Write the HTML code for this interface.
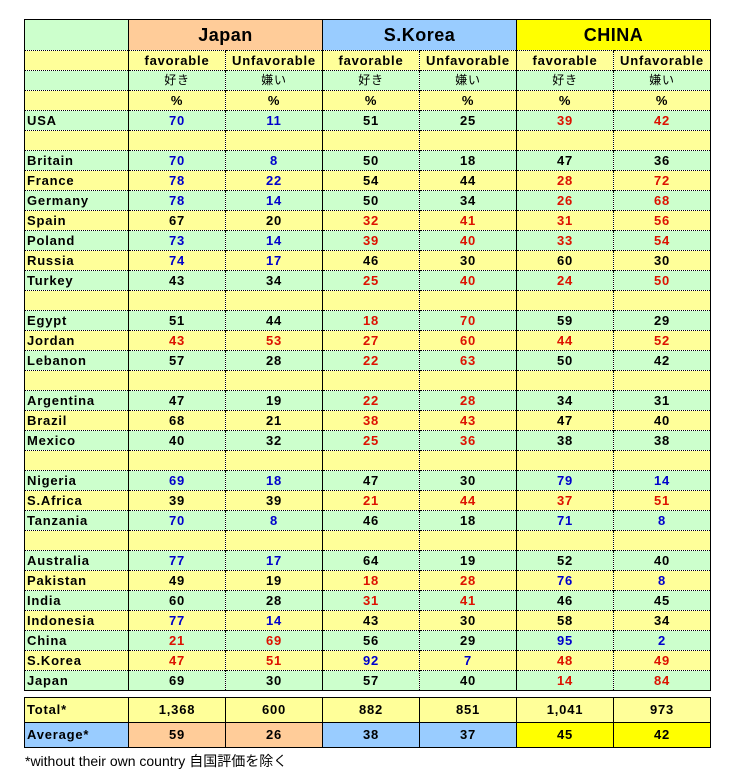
<!DOCTYPE html>
<html><head><meta charset="utf-8"><style>
body{margin:0;background:#fff;width:734px;height:770px;position:relative;font-family:"Liberation Sans","Noto Sans CJK JP",sans-serif;}
table{position:absolute;left:24px;border-collapse:collapse;table-layout:fixed;}
td{padding:0;text-align:center;font-weight:bold;font-size:13px;letter-spacing:0.8px;height:19px;border-top:1px dotted #000;border-left:1px dotted #000;white-space:nowrap;overflow:hidden;line-height:19px}
td.l{text-align:left;padding-left:2px;border-left:none}
td.g{border-left:1px solid #000}
tr.y td{background:#ffff99}
tr.n td{background:#ccffcc}
.b{color:#0000cc}.r{color:#dd1100}
#t1{top:19px;border:1px solid #000}
#t1 tr.h td{height:30px;font-size:18px;border-top:none;line-height:30px;letter-spacing:0.5px}
#t2{top:697px;border:1px solid #000}
#t2 td{border-top:1px solid #000;border-left:1px solid #000;height:24px;line-height:24px}
#t2 td.l{border-left:none}
.jp{font-weight:normal;font-size:12px}
.fn{position:absolute;left:25px;top:751px;font-size:14px;color:#000}
</style></head><body>
<table id="t1">
<colgroup><col style="width:104px"><col style="width:97px"><col style="width:97px"><col style="width:97px"><col style="width:97px"><col style="width:97px"><col style="width:97px"></colgroup>
<tr class="h"><td class="l" style="background:#ccffcc"></td><td colspan="2" class="g" style="background:#ffcc99">Japan</td><td colspan="2" class="g" style="background:#99ccff">S.Korea</td><td colspan="2" class="g" style="background:#ffff00">CHINA</td></tr>
<tr class="y"><td class="l"></td><td class="g">favorable</td><td>Unfavorable</td><td class="g">favorable</td><td>Unfavorable</td><td class="g">favorable</td><td>Unfavorable</td></tr>
<tr class="n"><td class="l"></td><td class="g jp">好き</td><td class="jp">嫌い</td><td class="g jp">好き</td><td class="jp">嫌い</td><td class="g jp">好き</td><td class="jp">嫌い</td></tr>
<tr class="y"><td class="l"></td><td class="g">%</td><td>%</td><td class="g">%</td><td>%</td><td class="g">%</td><td>%</td></tr>
<tr class="n"><td class="l">USA</td><td class="g b">70</td><td class="b">11</td><td class="g">51</td><td>25</td><td class="g r">39</td><td class="r">42</td></tr>
<tr class="y"><td class="l"></td><td class="g"></td><td></td><td class="g"></td><td></td><td class="g"></td><td></td></tr>
<tr class="n"><td class="l">Britain</td><td class="g b">70</td><td class="b">8</td><td class="g">50</td><td>18</td><td class="g">47</td><td>36</td></tr>
<tr class="y"><td class="l">France</td><td class="g b">78</td><td class="b">22</td><td class="g">54</td><td>44</td><td class="g r">28</td><td class="r">72</td></tr>
<tr class="n"><td class="l">Germany</td><td class="g b">78</td><td class="b">14</td><td class="g">50</td><td>34</td><td class="g r">26</td><td class="r">68</td></tr>
<tr class="y"><td class="l">Spain</td><td class="g">67</td><td>20</td><td class="g r">32</td><td class="r">41</td><td class="g r">31</td><td class="r">56</td></tr>
<tr class="n"><td class="l">Poland</td><td class="g b">73</td><td class="b">14</td><td class="g r">39</td><td class="r">40</td><td class="g r">33</td><td class="r">54</td></tr>
<tr class="y"><td class="l">Russia</td><td class="g b">74</td><td class="b">17</td><td class="g">46</td><td>30</td><td class="g">60</td><td>30</td></tr>
<tr class="n"><td class="l">Turkey</td><td class="g">43</td><td>34</td><td class="g r">25</td><td class="r">40</td><td class="g r">24</td><td class="r">50</td></tr>
<tr class="y"><td class="l"></td><td class="g"></td><td></td><td class="g"></td><td></td><td class="g"></td><td></td></tr>
<tr class="n"><td class="l">Egypt</td><td class="g">51</td><td>44</td><td class="g r">18</td><td class="r">70</td><td class="g">59</td><td>29</td></tr>
<tr class="y"><td class="l">Jordan</td><td class="g r">43</td><td class="r">53</td><td class="g r">27</td><td class="r">60</td><td class="g r">44</td><td class="r">52</td></tr>
<tr class="n"><td class="l">Lebanon</td><td class="g">57</td><td>28</td><td class="g r">22</td><td class="r">63</td><td class="g">50</td><td>42</td></tr>
<tr class="y"><td class="l"></td><td class="g"></td><td></td><td class="g"></td><td></td><td class="g"></td><td></td></tr>
<tr class="n"><td class="l">Argentina</td><td class="g">47</td><td>19</td><td class="g r">22</td><td class="r">28</td><td class="g">34</td><td>31</td></tr>
<tr class="y"><td class="l">Brazil</td><td class="g">68</td><td>21</td><td class="g r">38</td><td class="r">43</td><td class="g">47</td><td>40</td></tr>
<tr class="n"><td class="l">Mexico</td><td class="g">40</td><td>32</td><td class="g r">25</td><td class="r">36</td><td class="g">38</td><td>38</td></tr>
<tr class="y"><td class="l"></td><td class="g"></td><td></td><td class="g"></td><td></td><td class="g"></td><td></td></tr>
<tr class="n"><td class="l">Nigeria</td><td class="g b">69</td><td class="b">18</td><td class="g">47</td><td>30</td><td class="g b">79</td><td class="b">14</td></tr>
<tr class="y"><td class="l">S.Africa</td><td class="g">39</td><td>39</td><td class="g r">21</td><td class="r">44</td><td class="g r">37</td><td class="r">51</td></tr>
<tr class="n"><td class="l">Tanzania</td><td class="g b">70</td><td class="b">8</td><td class="g">46</td><td>18</td><td class="g b">71</td><td class="b">8</td></tr>
<tr class="y"><td class="l"></td><td class="g"></td><td></td><td class="g"></td><td></td><td class="g"></td><td></td></tr>
<tr class="n"><td class="l">Australia</td><td class="g b">77</td><td class="b">17</td><td class="g">64</td><td>19</td><td class="g">52</td><td>40</td></tr>
<tr class="y"><td class="l">Pakistan</td><td class="g">49</td><td>19</td><td class="g r">18</td><td class="r">28</td><td class="g b">76</td><td class="b">8</td></tr>
<tr class="n"><td class="l">India</td><td class="g">60</td><td>28</td><td class="g r">31</td><td class="r">41</td><td class="g">46</td><td>45</td></tr>
<tr class="y"><td class="l">Indonesia</td><td class="g b">77</td><td class="b">14</td><td class="g">43</td><td>30</td><td class="g">58</td><td>34</td></tr>
<tr class="n"><td class="l">China</td><td class="g r">21</td><td class="r">69</td><td class="g">56</td><td>29</td><td class="g b">95</td><td class="b">2</td></tr>
<tr class="y"><td class="l">S.Korea</td><td class="g r">47</td><td class="r">51</td><td class="g b">92</td><td class="b">7</td><td class="g r">48</td><td class="r">49</td></tr>
<tr class="n"><td class="l">Japan</td><td class="g">69</td><td>30</td><td class="g">57</td><td>40</td><td class="g r">14</td><td class="r">84</td></tr>
</table>
<table id="t2">
<colgroup><col style="width:104px"><col style="width:97px"><col style="width:97px"><col style="width:97px"><col style="width:97px"><col style="width:97px"><col style="width:97px"></colgroup>
<tr class="y"><td class="l">Total*</td><td>1,368</td><td>600</td><td>882</td><td>851</td><td>1,041</td><td>973</td></tr>
<tr><td class="l" style="background:#99ccff">Average*</td><td style="background:#ffcc99">59</td><td style="background:#ffcc99">26</td><td style="background:#99ccff">38</td><td style="background:#99ccff">37</td><td style="background:#ffff00">45</td><td style="background:#ffff00">42</td></tr>
</table>
<div class="fn">*without their own country 自国評価を除く</div>
</body></html>
